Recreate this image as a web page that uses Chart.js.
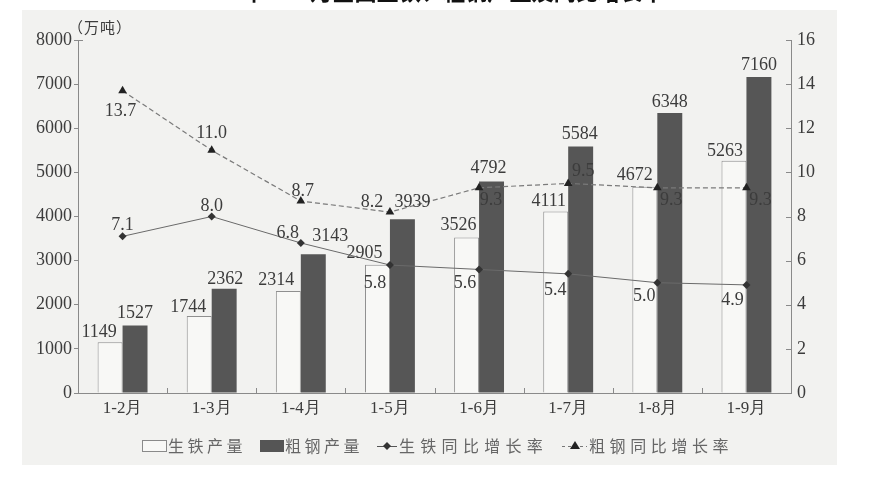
<!DOCTYPE html>
<html lang="zh">
<head>
<meta charset="utf-8">
<title>2014年1—9月全国生铁、粗钢产量及同比增长率</title>
<script src="https://cdn.jsdelivr.net/npm/chart.js@4.4.1/dist/chart.umd.min.js"></script>
<style>
  html, body { margin: 0; padding: 0; background: #fff; }
  #wrap { position: relative; width: 873px; height: 482px; overflow: hidden; }
  #paper { position: absolute; left: 22px; top: 10px; width: 815px; height: 455px; background: #f2f2f0; }
  #chart { position: absolute; left: 0; top: 0; }
</style>
</head>
<body>
<div id="wrap">
  <div id="paper"></div>
  <canvas id="chart" width="873" height="482"></canvas>
</div>
<script>
// ---- data ----
const months = ['1-2月', '1-3月', '1-4月', '1-5月', '1-6月', '1-7月', '1-8月', '1-9月'];
const ironOutput = [1149, 1744, 2314, 2905, 3526, 4111, 4672, 5263];   // 生铁产量 (万吨)
const steelOutput = [1527, 2362, 3143, 3939, 4792, 5584, 6348, 7160];  // 粗钢产量 (万吨)
const ironGrowth = [7.1, 8.0, 6.8, 5.8, 5.6, 5.4, 5.0, 4.9];           // 生铁同比增长率 (%)
const steelGrowth = [13.7, 11.0, 8.7, 8.2, 9.3, 9.5, 9.3, 9.3];        // 粗钢同比增长率 (%)
const outputTicks = [0, 1000, 2000, 3000, 4000, 5000, 6000, 7000, 8000];
const growthTicks = [0, 2, 4, 6, 8, 10, 12, 14, 16];

const titleText = '2014年1—9月全国生铁、粗钢产量及同比增长率';
const unitText = '（万吨）';
const legendNames = ['生铁产量', '粗钢产量', '生铁同比增长率', '粗钢同比增长率'];

// ---- look ----
const SERIF = '"Liberation Serif", "Times New Roman", serif';
const CJK = '"Noto Sans CJK SC", "Noto Sans", sans-serif';
const AXIS = '#8a8a8a';
const INK = '#3c3c3c';

// where each value label sits relative to its bar top / point (dx, dy of label centre)
const labelNudges = [
  [[-11, -10], [-11, -9], [-12, -11], [-13, -12], [-8, -12], [-7, -10], [-10, -12], [-9, -10]],
  [[0, -12], [1, -10], [17, -18], [10, -17], [-3, -13], [-1, -12], [0, -11], [0, -12]],
  [[0, -11], [0, -10], [-13, -10], [-15, 18], [-14, 14], [-13, 16], [-13, 14], [-14, 15]],
  [[-2, 21], [0, -17], [2, -10], [-18, -10], [12, 12], [15, -12], [14, 12], [14, 12]]
];

const valueLabels = {
  id: 'valueLabels',
  afterDatasetsDraw(chart) {
    const ctx = chart.ctx;
    ctx.save();
    ctx.font = '18px ' + SERIF;
    ctx.fillStyle = INK;
    ctx.textAlign = 'center';
    ctx.textBaseline = 'middle';
    chart.data.datasets.forEach((ds, di) => {
      const meta = chart.getDatasetMeta(di);
      meta.data.forEach((el, i) => {
        const v = ds.data[i];
        const txt = di < 2 ? String(v) : v.toFixed(1);
        const [dx, dy] = labelNudges[di][i];
        ctx.fillText(txt, el.x + dx, el.y + dy);
      });
    });
    ctx.restore();
  }
};

function spacedText(ctx, text, x, y, step) {
  [...text].forEach((ch, i) => ctx.fillText(ch, x + i * step, y));
}

const decorations = {
  id: 'decorations',
  afterDraw(chart) {
    const ctx = chart.ctx;
    const { left, right, top, bottom } = chart.chartArea;
    ctx.save();

    // inward tick marks
    ctx.strokeStyle = AXIS;
    ctx.lineWidth = 1;
    ctx.beginPath();
    const n = months.length;
    for (let i = 1; i < n; i++) {
      const x = Math.round(left + i * (right - left) / n) + 0.5;
      ctx.moveTo(x, bottom);
      ctx.lineTo(x, bottom - 5);
    }
    const y1 = chart.scales.y1;
    growthTicks.forEach(v => {
      if (v === 0) return;
      const y = Math.round(y1.getPixelForValue(v)) + 0.5;
      ctx.moveTo(right, y);
      ctx.lineTo(right - 5, y);
    });
    ctx.moveTo(left, top + 0.5);
    ctx.lineTo(left + 5, top + 0.5);
    ctx.stroke();

    // title (cut off by the top edge in the scan)
    ctx.fillStyle = '#111';
    ctx.font = 'bold 22px ' + CJK;
    ctx.textAlign = 'center';
    ctx.textBaseline = 'alphabetic';
    const w = ctx.measureText(titleText).width;
    ctx.save();
    ctx.translate(427, 0);
    ctx.scale(475 / w, 1);
    ctx.fillText(titleText, 0, 0);
    ctx.restore();

    // unit
    ctx.fillStyle = INK;
    ctx.font = '15px ' + CJK;
    ctx.textAlign = 'left';
    ctx.textBaseline = 'middle';
    spacedText(ctx, unitText, 68, 27, 16);

    // legend
    const ly = 446;
    ctx.font = '16px ' + CJK;
    ctx.strokeStyle = '#8a8a8a';
    ctx.fillStyle = '#f8f8f6';
    ctx.fillRect(142.5, 440.5, 24, 11);
    ctx.strokeRect(142.5, 440.5, 24, 11);
    ctx.fillStyle = '#555';
    ctx.fillRect(260, 440, 24, 12);

    ctx.strokeStyle = '#555';
    ctx.beginPath();
    ctx.moveTo(377, ly + 0.5);
    ctx.lineTo(397, ly + 0.5);
    ctx.stroke();
    ctx.fillStyle = '#333';
    ctx.beginPath();
    ctx.moveTo(387, ly - 4); ctx.lineTo(391, ly); ctx.lineTo(387, ly + 4); ctx.lineTo(383, ly);
    ctx.closePath(); ctx.fill();

    ctx.setLineDash([3, 3]);
    ctx.strokeStyle = '#777';
    ctx.beginPath();
    ctx.moveTo(562, ly + 0.5);
    ctx.lineTo(587, ly + 0.5);
    ctx.stroke();
    ctx.setLineDash([]);
    ctx.fillStyle = '#222';
    ctx.beginPath();
    ctx.moveTo(575, ly - 5); ctx.lineTo(580, ly + 3); ctx.lineTo(570, ly + 3);
    ctx.closePath(); ctx.fill();

    ctx.fillStyle = '#666';
    ctx.textAlign = 'left';
    spacedText(ctx, legendNames[0], 168, ly, 19.5);
    spacedText(ctx, legendNames[1], 285, ly, 19.5);
    spacedText(ctx, legendNames[2], 399, ly, 21.3);
    spacedText(ctx, legendNames[3], 589, ly, 20.6);

    ctx.restore();
  }
};

const tickFont = { family: SERIF, size: 18 };

new Chart(document.getElementById('chart'), {
  type: 'bar',
  data: {
    labels: months,
    datasets: [
      {
        label: legendNames[0],
        data: ironOutput,
        yAxisID: 'y',
        backgroundColor: '#f8f8f6',
        borderColor: '#8f8f8f',
        borderWidth: 1,
        categoryPercentage: 0.56,
        barPercentage: 1.0,
        order: 1
      },
      {
        label: legendNames[1],
        data: steelOutput,
        yAxisID: 'y',
        backgroundColor: '#565656',
        borderWidth: 0,
        categoryPercentage: 0.56,
        barPercentage: 1.0,
        order: 1
      },
      {
        type: 'line',
        label: legendNames[2],
        data: ironGrowth,
        yAxisID: 'y1',
        borderColor: '#6a6a6a',
        borderWidth: 1,
        tension: 0,
        fill: false,
        pointStyle: 'rectRot',
        pointRadius: 4,
        pointBackgroundColor: '#333',
        pointBorderColor: '#333',
        pointBorderWidth: 0,
        order: 0
      },
      {
        type: 'line',
        label: legendNames[3],
        data: steelGrowth,
        yAxisID: 'y1',
        borderColor: '#7a7a7a',
        borderWidth: 1.2,
        borderDash: [5, 3],
        tension: 0,
        fill: false,
        pointStyle: 'triangle',
        pointRadius: 5,
        pointBackgroundColor: '#222',
        pointBorderColor: '#222',
        pointBorderWidth: 0,
        order: 0
      }
    ]
  },
  options: {
    responsive: false,
    animation: false,
    layout: { padding: { top: 40, left: 0, right: 0, bottom: 0 } },
    plugins: {
      legend: { display: false },
      tooltip: { enabled: false }
    },
    scales: {
      x: {
        offset: true,
        grid: { drawOnChartArea: false, drawTicks: false },
        border: { color: AXIS },
        ticks: { font: { family: SERIF, size: 17 }, color: INK, padding: 5 },
        afterFit(s) { s.height = 89; }
      },
      y: {
        position: 'left',
        min: 0,
        max: 8000,
        afterBuildTicks(s) { s.ticks = outputTicks.map(v => ({ value: v })); },
        grid: { drawOnChartArea: false, drawTicks: true, tickLength: 4, color: AXIS },
        border: { color: AXIS },
        ticks: { font: tickFont, color: INK, padding: 2, callback: v => String(v) },
        afterFit(s) { s.width = 78; }
      },
      y1: {
        position: 'right',
        min: 0,
        max: 16,
        afterBuildTicks(s) { s.ticks = growthTicks.map(v => ({ value: v })); },
        grid: { drawOnChartArea: false, drawTicks: false },
        border: { color: AXIS },
        ticks: { font: tickFont, color: INK, padding: 6, callback: v => String(v) },
        afterFit(s) { s.width = 82; }
      }
    }
  },
  plugins: [valueLabels, decorations]
});
</script>
</body>
</html>
